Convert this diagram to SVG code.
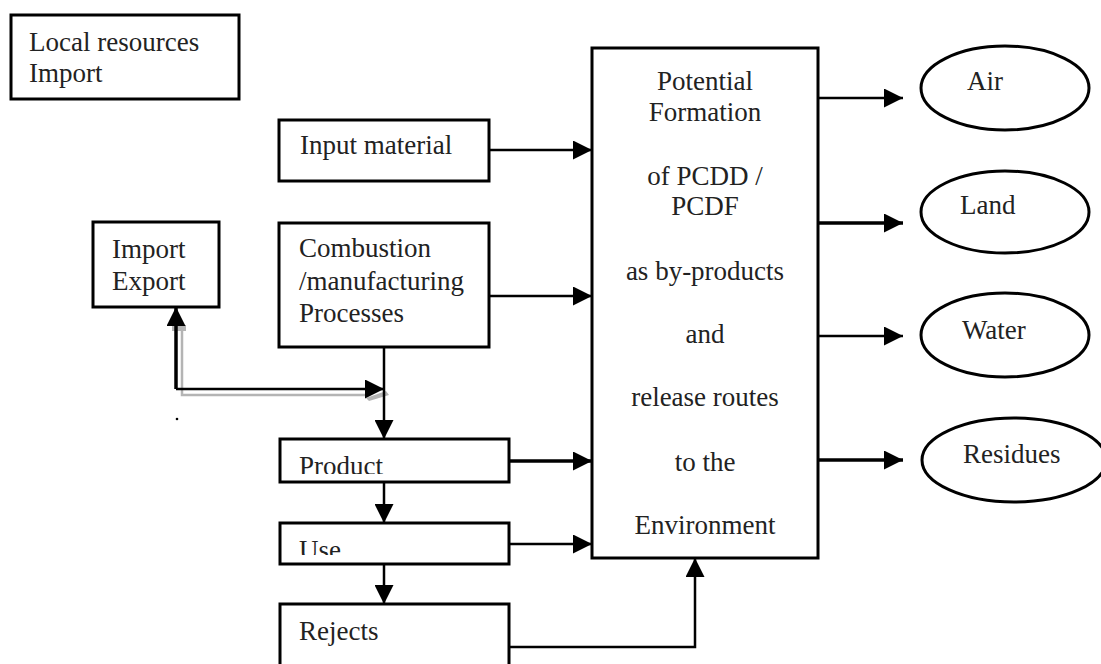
<svg xmlns="http://www.w3.org/2000/svg" width="1101" height="664" viewBox="0 0 1101 664">
<defs>
<style>
.box{fill:#fff;stroke:#000;stroke-width:3}
.ell{fill:#fff;stroke:#000;stroke-width:3}
.t{font-family:"Liberation Serif","Times New Roman",serif;font-size:27px;fill:#222}
.c{text-anchor:middle}
.ln{fill:none;stroke:#000;stroke-width:2.5}
.thk{stroke-width:3.5}
.gray{fill:none;stroke:#b4b4b4;stroke-width:2.5}
</style>
<marker id="ah" viewBox="0 0 20 20" refX="20" refY="10" markerWidth="19" markerHeight="19" markerUnits="userSpaceOnUse" orient="auto">
<path d="M0,0 L20,10 L0,20 z" fill="#000"/>
</marker>
<clipPath id="clipProduct"><rect x="280" y="439" width="229" height="35"/></clipPath>
<clipPath id="clipUse"><rect x="280" y="523" width="229" height="32"/></clipPath>
</defs>
<rect width="1101" height="664" fill="#fff"/>

<g id="connectors">
<path class="gray" d="M182,327 L182,395 L367,395"/>
<path d="M366,398 L386,391 L389,395 L369,401 z" fill="#b4b4b4"/>
<rect x="172" y="325" width="14" height="6" fill="#b4b4b4"/>
<path class="ln" d="M489,150 L592,150" marker-end="url(#ah)"/>
<path class="ln" d="M489,296 L592,296" marker-end="url(#ah)"/>
<path class="ln thk" d="M509,461 L592,461" marker-end="url(#ah)"/>
<path class="ln" d="M509,544 L592,544" marker-end="url(#ah)"/>
<path class="ln" d="M509,647 L695,647 L695,558" marker-end="url(#ah)"/>
<path class="ln" d="M384,347 L384,439" marker-end="url(#ah)"/>
<path class="ln" d="M384,482 L384,523" marker-end="url(#ah)"/>
<path class="ln" d="M384,564 L384,604" marker-end="url(#ah)"/>
<path class="ln thk" d="M176,389 L176,307" marker-end="url(#ah)"/>
<path class="ln" d="M176,389 L384,389" marker-end="url(#ah)"/>
<path class="ln" d="M818,98 L903,98" marker-end="url(#ah)"/>
<path class="ln thk" d="M818,223 L903,223" marker-end="url(#ah)"/>
<path class="ln" d="M818,336 L903,336" marker-end="url(#ah)"/>
<path class="ln thk" d="M818,460 L903,460" marker-end="url(#ah)"/>
<circle cx="177" cy="419" r="1.3" fill="#000"/>
</g>

<g id="local-resources">
<rect class="box" x="11" y="15" width="228" height="84"/>
<text class="t" x="29" y="51">Local resources</text>
<text class="t" x="29" y="82">Import</text>
</g>

<g id="input-material">
<rect class="box" x="279" y="120" width="210" height="61"/>
<text class="t" x="300" y="154">Input material</text>
</g>

<g id="import-export">
<rect class="box" x="93" y="222" width="126" height="85"/>
<text class="t" x="112" y="258">Import</text>
<text class="t" x="112" y="290">Export</text>
</g>

<g id="combustion">
<rect class="box" x="279" y="223" width="210" height="124" stroke-width="3.5"/>
<text class="t" x="299" y="257">Combustion</text>
<text class="t" x="299" y="290">/manufacturing</text>
<text class="t" x="299" y="322">Processes</text>
</g>

<g id="product">
<rect class="box" x="280" y="439" width="229" height="43" stroke-width="2.5"/>
<text class="t" x="299" y="475" clip-path="url(#clipProduct)">Product</text>
</g>

<g id="use">
<rect class="box" x="280" y="523" width="229" height="41" stroke-width="2.5"/>
<text class="t" x="299" y="559" clip-path="url(#clipUse)">Use</text>
</g>

<g id="rejects">
<rect class="box" x="280" y="604" width="229" height="70" stroke-width="3"/>
<text class="t" x="299" y="640">Rejects</text>
</g>

<g id="formation">
<rect class="box" x="592" y="48" width="226" height="510"/>
<text class="t c" x="705" y="90">Potential</text>
<text class="t c" x="705" y="121">Formation</text>
<text class="t c" x="705" y="185">of PCDD /</text>
<text class="t c" x="705" y="215">PCDF</text>
<text class="t c" x="705" y="280">as by-products</text>
<text class="t c" x="705" y="343">and</text>
<text class="t c" x="705" y="406">release routes</text>
<text class="t c" x="705" y="471">to the</text>
<text class="t c" x="705" y="534">Environment</text>
</g>

<g id="air">
<ellipse class="ell" cx="1005" cy="88" rx="84" ry="42"/>
<text class="t" x="967" y="90">Air</text>
</g>

<g id="land">
<ellipse class="ell" cx="1005" cy="212" rx="84" ry="41"/>
<text class="t" x="960" y="214">Land</text>
</g>

<g id="water">
<ellipse class="ell" cx="1005" cy="335" rx="84" ry="42"/>
<text class="t" x="962" y="339">Water</text>
</g>

<g id="residues">
<ellipse class="ell" cx="1014" cy="460" rx="92" ry="42"/>
<text class="t" x="963" y="463">Residues</text>
</g>
</svg>
